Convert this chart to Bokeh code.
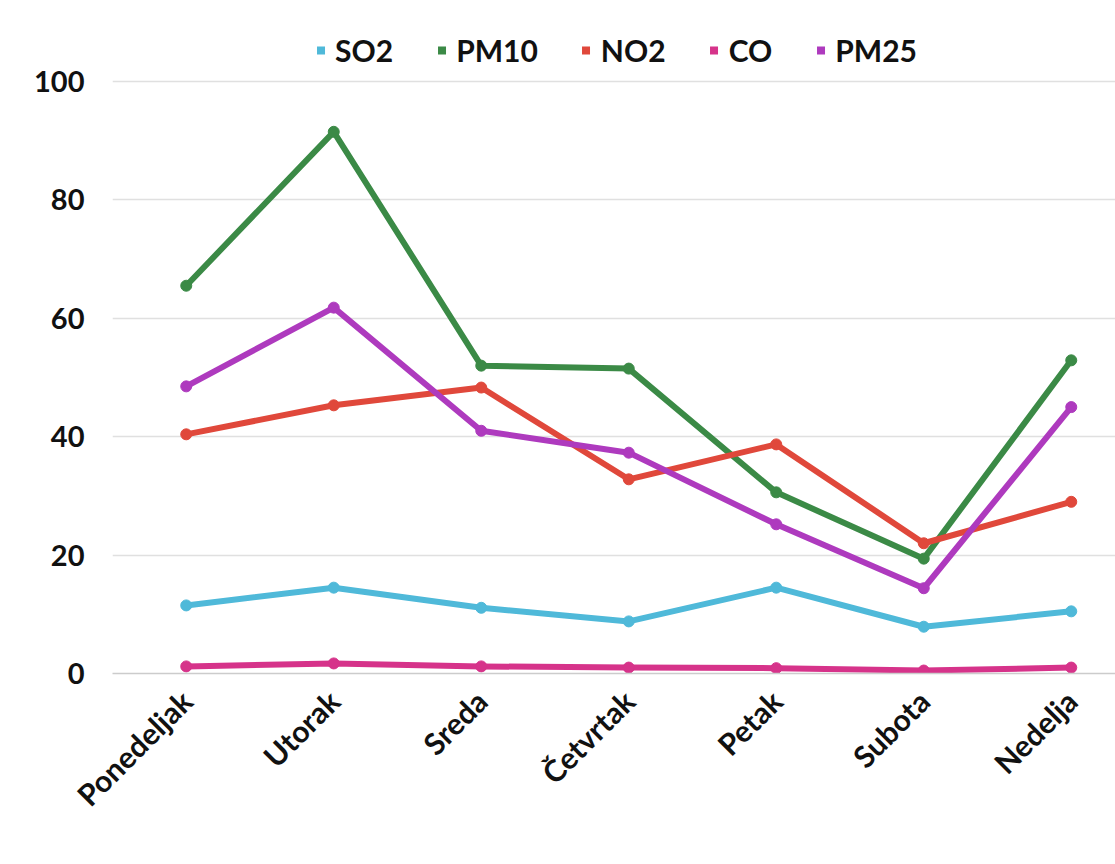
from bokeh.plotting import figure
from bokeh.models import Range1d, FixedTicker, Legend, LegendItem, ColumnDataSource
from bokeh.embed import file_html
from bokeh.resources import INLINE
import math

days = ["Ponedeljak", "Utorak", "Sreda", "Četvrtak", "Petak", "Subota", "Nedelja"]
so2 = [11.5, 14.5, 11.1, 8.8, 14.5, 7.9, 10.5]
pm10 = [65.5, 91.5, 52.0, 51.5, 30.6, 19.4, 52.9]
no2 = [40.4, 45.3, 48.3, 32.8, 38.7, 22.0, 29.0]
co = [1.2, 1.7, 1.2, 1.0, 0.9, 0.5, 1.0]
pm25 = [48.5, 61.8, 41.0, 37.3, 25.2, 14.4, 45.0]
series_names = ["SO2", "PM10", "NO2", "CO", "PM25"]
y_ticks = [0, 20, 40, 60, 80, 100]

series = [so2, pm10, no2, co, pm25]
colors = ["#4FB9D9", "#3B8A46", "#E0483B", "#D6338A", "#AE3ABE"]
FONT = "Lato"

p = figure(width=1115, height=864, output_backend="svg", toolbar_location=None,
           x_range=Range1d(-0.5, 6.3), y_range=Range1d(0, 110.3),
           min_border_left=112, min_border_right=0, min_border_top=20, min_border_bottom=191)
p.outline_line_color = None
p.background_fill_color = "white"

x = list(range(len(days)))
legend_items = []
for name, vals, c in zip(series_names, series, colors):
    src = ColumnDataSource(dict(x=x, y=vals))
    p.line("x", "y", source=src, line_color=c, line_width=6, line_join="round", line_cap="round")
    p.scatter("x", "y", source=src, size=11, fill_color=c, line_color=c)
    # zero-size square markers: invisible on the plot, used only for the legend swatch
    sq = p.scatter("x", "y", source=src, marker="square", size=0, fill_color=c, line_color=None)
    legend_items.append(LegendItem(label=name, renderers=[sq]))

legend = Legend(items=legend_items, orientation="horizontal", location="top_center")
legend.label_text_font = FONT
legend.label_text_font_style = "bold"
legend.label_text_font_size = "30px"
legend.label_text_color = "#111111"
legend.glyph_width = 20
legend.glyph_height = 20
legend.label_standoff = 5
legend.spacing = 38
legend.padding = 0
legend.margin = 12
legend.border_line_color = None
legend.background_fill_alpha = 0
p.add_layout(legend, "center")

p.xaxis.ticker = FixedTicker(ticks=x)
p.xaxis.major_label_overrides = {i: d for i, d in enumerate(days)}
p.xaxis.major_label_orientation = math.pi / 4
p.xaxis.major_label_text_font = FONT
p.xaxis.major_label_text_font_style = "bold"
p.xaxis.major_label_text_font_size = "30px"
p.xaxis.major_label_text_color = "#111111"
p.xaxis.axis_line_color = "#cccccc"
p.xaxis.axis_line_width = 1.5
p.xaxis.major_tick_line_color = None
p.xaxis.minor_tick_line_color = None
p.xaxis.major_label_standoff = 16

p.yaxis.ticker = FixedTicker(ticks=y_ticks)
p.yaxis.major_label_text_font = FONT
p.yaxis.major_label_text_font_style = "bold"
p.yaxis.major_label_text_font_size = "29px"
p.yaxis.major_label_text_color = "#111111"
p.yaxis.axis_line_color = None
p.yaxis.major_tick_line_color = None
p.yaxis.minor_tick_line_color = None
p.yaxis.major_label_standoff = 22

p.xgrid.grid_line_color = None
p.ygrid.grid_line_color = "#e0e0e0"
p.ygrid.grid_line_width = 1.5

open("out.html", "w").write(file_html(p, INLINE))
